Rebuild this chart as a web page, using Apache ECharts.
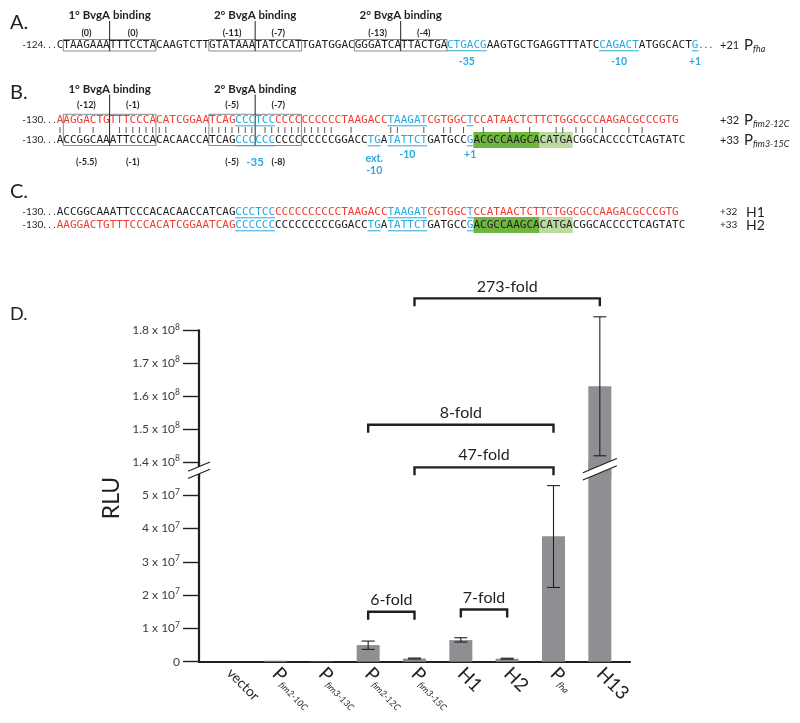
<!DOCTYPE html>
<html><head><meta charset="utf-8">
<script src="https://cdn.jsdelivr.net/npm/echarts@6/dist/echarts.min.js"></script>
<style>html,body{margin:0;padding:0;background:#fff}#c{width:800px;height:723px}</style>
</head><body><div id="c"></div>
<script>
// ---------------- Panel D data ----------------
const categories = ['vector','Pfim2-10C','Pfim3-13C','Pfim2-12C','Pfim3-15C','H1','H2','Pfha','H13'];
const rluMean = [0, 3e5, 1e5, 5.0e6, 9.5e5, 6.5e6, 9.0e5, 3.77e7, 1.63e8];
const errLow  = [null, null, null, 3.7e6, 8.0e5, 5.9e6, 7.5e5, 2.23e7, 1.419e8];
const errHigh = [null, null, null, 6.2e6, 1.1e6, 7.2e6, 1.05e6, 5.29e7, 1.841e8];
const lowerTicks = [0, 1e7, 2e7, 3e7, 4e7, 5e7];
const upperTicks = [1.4e8, 1.5e8, 1.6e8, 1.7e8, 1.8e8];
const foldLabels = ['273-fold','8-fold','47-fold','6-fold','7-fold'];
const foldFrom  = [4, 3, 4, 3, 5];
const foldTo    = [8, 7, 7, 4, 6];
const foldLevel = [1.897e8, 7.12e7, 5.84e7, 1.50e7, 1.57e7];
const foldPanel = [0, 1, 1, 1, 1]; // 0 = upper segment, 1 = lower segment

// ---------------- Panels A-C text ----------------
const seqA = [['C','k'],['TAAGAAATTTCCTACAAGTCTTGTATAAATATCCATTGATGGACGGGATCATTACTGA','k'],['CTGACG','b'],['AAGTGCTGAGGTTTATC','k'],['CAGACT','b'],['ATGGCACT','k'],['G','b']];
const seqBtop = [['AAGGACTGTTTCCCACATCGGAATCAG','r'],['CCCTCC','b'],['CCCCCCCCCCTAAGACC','r'],['TAAGAT','b'],['CGTGGC','r'],['T','b'],['CCATAACTCTTCTGGCGCCAAGACGCCCGTG','r']];
const seqBbot = [['ACCGGCAAATTCCCACACAACCATCAG','k'],['CCCCCC','b'],['CCCCCCCCCGGACC','k'],['TG','b'],['A','k'],['TATTCT','b'],['GATGCC','k'],['G','b'],['ACGCCAAGCA','kg'],['CATGA','kl'],['CGGCACCCCTCAGTATC','k']];
const seqH1 = [['ACCGGCAAATTCCCACACAACCATCAG','k'],['CCCTCC','b'],['CCCCCCCCCCTAAGACC','r'],['TAAGAT','b'],['CGTGGC','r'],['T','b'],['CCATAACTCTTCTGGCGCCAAGACGCCCGTG','r']];
const seqH2 = [['AAGGACTGTTTCCCACATCGGAATCAG','r'],['CCCCCC','b'],['CCCCCCCCCGGACC','k'],['TG','b'],['A','k'],['TATTCT','b'],['GATGCC','k'],['G','b'],['ACGCCAAGCA','kg'],['CATGA','kl'],['CGGCACCCCTCAGTATC','k']];
const boxesA = [[1,8,15],[23,30,37],[45,52,59]];
const headingsA = ['1° BvgA binding','2° BvgA binding','2° BvgA binding'];
const numbersA = ['(0)','(0)','(-11)','(-7)','(-13)','(-4)'];
const boxesB = [[1,8,15],[23,30,37]];
const headingsB = ['1° BvgA binding','2° BvgA binding'];
const numbersBtop = ['(-12)','(-1)','(-5)','(-7)'];
const numbersBbot = ['(-5.5)','(-1)','(-5)','(-8)'];

const F = 'Lato, "Open Sans", sans-serif';
const MONO = '"DejaVu Sans Mono", monospace';
const INK = '#231f20';
const COL = {k: INK, r: '#ee3e31', b: '#27aae1', kg: INK, kl: INK};
const BG = {kg: '#6fb640', kl: '#bbdba2'};
const X0 = 56.7, CW = 6.615;
const cx = i => X0 + i * CW;

// ---------------- chart layout ----------------
const GL = 206, GR = 177, YOFF = 7;
const UP_TOP = 330.3, UP_H = 148.2, LO_TOP = 462, LO_H = 199.7;
const UP_MIN = 1.35e8, UP_MAX = 1.8e8, LO_MIN = 0, LO_MAX = 6e7;

const chart = echarts.init(document.getElementById('c'), null, {renderer: 'canvas'});

function valueFmt(v) {
  if (v === 0) return '{n|0}';
  const e = Math.floor(Math.log10(v) + 1e-9);
  const m = Math.round(v / Math.pow(10, e) * 10) / 10;
  return '{n|' + m + ' x 10}{sup|' + e + '}';
}
const yRich = {
  n: {fontSize: 12, fontFamily: F, color: '#3c3c3e', lineHeight: 16},
  sup: {fontSize: 8.5, fontFamily: F, color: '#3c3c3e', lineHeight: 9, verticalAlign: 'top'}
};
function yAxisCfg(grid, min, max, ticks) {
  return {
    type: 'value', gridIndex: grid, min, max, offset: YOFF,
    axisLine: {show: true, lineStyle: {color: INK, width: 2.2}},
    axisTick: {show: true, length: 16, customValues: ticks, lineStyle: {color: INK, width: 1.4}},
    axisLabel: {show: true, margin: 19, customValues: ticks, formatter: valueFmt, rich: yRich},
    splitLine: {show: false}
  };
}
function errItem(params, api) {
  const x = api.value(0), lo = api.value(1), hi = api.value(2);
  const a = api.coord([x, lo]), b = api.coord([x, hi]);
  const w = 6.5;
  const st = {stroke: INK, lineWidth: 1.1};
  return {type: 'group', children: [
    {type: 'line', shape: {x1: a[0], y1: a[1], x2: b[0], y2: b[1]}, style: st},
    {type: 'line', shape: {x1: a[0] - w, y1: a[1], x2: a[0] + w, y2: a[1]}, style: st},
    {type: 'line', shape: {x1: b[0] - w, y1: b[1], x2: b[0] + w, y2: b[1]}, style: st}
  ]};
}
function foldItem(params, api) {
  const p1 = api.coord([api.value(0), api.value(2)]);
  const p2 = api.coord([api.value(1), api.value(2)]);
  const lab = foldLabels[api.value(3)];
  return {type: 'group', children: [
    {type: 'polyline', shape: {points: [[p1[0], p1[1] + 8], [p1[0], p1[1]], [p2[0], p2[1]], [p2[0], p2[1] + 8]]},
     style: {stroke: INK, lineWidth: 2.4, fill: null}},
    {type: 'text', x: (p1[0] + p2[0]) / 2, y: p1[1] - 4,
     style: {text: lab, fill: INK, font: '16px ' + F, align: 'center', verticalAlign: 'bottom', textAlign: 'center', textVerticalAlign: 'bottom'}}
  ]};
}
const errLowerData = [], errUpperData = [];
categories.forEach((c, i) => {
  if (errLow[i] == null) return;
  (errHigh[i] > LO_MAX ? errUpperData : errLowerData).push([i, errLow[i], errHigh[i]]);
});
const foldUpperData = [], foldLowerData = [];
foldLabels.forEach((l, i) => (foldPanel[i] === 0 ? foldUpperData : foldLowerData).push([foldFrom[i], foldTo[i], foldLevel[i], i]));

const barColor = '#8e8f92';
const option = {
  animation: false,
  backgroundColor: '#fff',
  grid: [
    {left: GL, right: GR, top: UP_TOP, height: UP_H},
    {left: GL, right: GR, top: LO_TOP, height: LO_H},
    {left: GL - YOFF, right: GR - YOFF, top: LO_TOP, height: LO_H}
  ],
  xAxis: [
    {type: 'category', gridIndex: 0, data: categories, show: false},
    {type: 'category', gridIndex: 1, data: categories,
     axisLine: {show: false}, axisTick: {show: false},
     axisLabel: {interval: 0, rotate: -45, margin: 9,
       formatter: v => v.charAt(0) === 'P' ? '{p|P}{s|' + v.slice(1) + '}' : (v === 'vector' ? '{v|vector}' : '{h|' + v + '}'),
       rich: {
         p: {fontSize: 19, fontFamily: F, color: INK, lineHeight: 20},
         s: {fontSize: 9, fontFamily: F, fontStyle: 'italic', color: INK, lineHeight: 11, verticalAlign: 'bottom', padding: [0, 0, 0, 1]},
         h: {fontSize: 19, fontFamily: F, color: INK, lineHeight: 20},
         v: {fontSize: 14, fontFamily: F, color: INK, lineHeight: 20}
       }}},
    {type: 'value', gridIndex: 2, min: 0, max: 1,
     axisLine: {show: true, onZero: false, lineStyle: {color: INK, width: 2.2}},
     axisTick: {show: false}, axisLabel: {show: false}, splitLine: {show: false}}
  ],
  yAxis: [
    yAxisCfg(0, UP_MIN, UP_MAX, upperTicks),
    yAxisCfg(1, LO_MIN, LO_MAX, lowerTicks),
    {type: 'value', gridIndex: 2, min: 0, max: 1, show: false}
  ],
  series: [
    {type: 'bar', xAxisIndex: 1, yAxisIndex: 1, data: rluMean, barWidth: 23, itemStyle: {color: barColor}},
    {type: 'bar', xAxisIndex: 0, yAxisIndex: 0, data: rluMean.map(v => v > UP_MIN ? v : '-'), barWidth: 23, itemStyle: {color: barColor}},
    {type: 'custom', xAxisIndex: 1, yAxisIndex: 1, data: errLowerData, encode: {x: 0, y: [1, 2]}, renderItem: errItem, z: 5},
    {type: 'custom', xAxisIndex: 0, yAxisIndex: 0, data: errUpperData, encode: {x: 0, y: [1, 2]}, renderItem: errItem, z: 5},
    {type: 'custom', xAxisIndex: 1, yAxisIndex: 1, data: foldLowerData, encode: {x: [0, 1], y: 2}, renderItem: foldItem, z: 6},
    {type: 'custom', xAxisIndex: 0, yAxisIndex: 0, data: foldUpperData, encode: {x: [0, 1], y: 2}, renderItem: foldItem, z: 6}
  ]
};
chart.setOption(option);

// ---------------- graphic (panels A-C, labels, axis breaks) ----------------
const els = [];
function T(x, y, text, st) {
  return {type: 'text', x, y, silent: true, z: 100,
    style: Object.assign({text, fill: INK, font: '11px ' + F, align: 'left', verticalAlign: 'middle', textAlign: 'left', textVerticalAlign: 'middle'}, st || {})};
}
function L(x1, y1, x2, y2, w, c) {
  return {type: 'line', silent: true, z: 100, shape: {x1, y1, x2, y2}, style: {stroke: c || INK, lineWidth: w || 1}};
}
function seqLine(segs, y) {
  let i = 0;
  segs.forEach(([txt, c]) => {
    const x = cx(i), w = txt.length * CW;
    if (BG[c]) els.push({type: 'rect', silent: true, z: 99, shape: {x, y: y - 8, width: w, height: 16}, style: {fill: BG[c]}});
    els.push(T(x, y, txt, {fill: COL[c], font: '11px ' + MONO}));
    if (c === 'b') els.push(L(x, y + 5.8, x + w, y + 5.8, 1, COL.b));
    i += txt.length;
  });
}
function sub(x, y, sub, big, small) {
  return {type: 'text', x, y, silent: true, z: 100, style: {
    text: '{p|P}{s|' + sub + '}', align: 'left', verticalAlign: 'middle', textAlign: 'left', textVerticalAlign: 'middle',
    rich: {p: {fontSize: big, fontFamily: F, fill: INK, color: INK, lineHeight: big + 3},
           s: {fontSize: small, fontFamily: F, fontStyle: 'italic', fill: INK, color: INK, lineHeight: small + 1, verticalAlign: 'bottom'}}}};
}
function prefix(y, t) { els.push(T(55.5, y, t, {font: '10px ' + F, align: 'right', textAlign: 'right'})); }
const boldNum = 'bold 9px ' + F;
const blueLab = 'bold 10.5px ' + F;

// Panel A
els.push(T(10, 23, 'A.', {font: '20px ' + F}));
prefix(45, '-124. . .');
boxesA.forEach(([s, d, e], k) => {
  els.push({type: 'rect', silent: true, z: 100, shape: {x: cx(s), y: 39.5, width: (e - s) * CW, height: 11.5}, style: {fill: null, stroke: '#6d6e71', lineWidth: 0.8}});
  els.push(L(cx(d), 21, cx(d), 51, 1));
  els.push(T(cx(d), 15, headingsA[k], {font: 'bold 11.5px ' + F, align: 'center', textAlign: 'center'}));
  els.push(T(cx((s + d) / 2), 33, numbersA[2 * k], {font: boldNum, align: 'center', textAlign: 'center'}));
  els.push(T(cx((d + e) / 2), 33, numbersA[2 * k + 1], {font: boldNum, align: 'center', textAlign: 'center'}));
});
seqLine(seqA, 45);
els.push(T(cx(97) + 1.5, 45, '. . .', {font: '10px ' + F}));
els.push(T(720, 45, '+21', {font: '11px ' + F}));
els.push(sub(744, 45, 'fha', 15, 9));
els.push(T(cx(62), 62, '-35', {font: blueLab, fill: COL.b, align: 'center', textAlign: 'center'}));
els.push(T(cx(85), 62, '-10', {font: blueLab, fill: COL.b, align: 'center', textAlign: 'center'}));
els.push(T(cx(96.5), 62, '+1', {font: blueLab, fill: COL.b, align: 'center', textAlign: 'center'}));

// Panel B
els.push(T(10, 93, 'B.', {font: '20px ' + F}));
prefix(120, '-130. . .');
prefix(140, '-130. . .');
boxesB.forEach(([s, d, e], k) => {
  els.push({type: 'rect', silent: true, z: 100, shape: {x: cx(s), y: 114.3, width: (e - s) * CW, height: 31.2}, style: {fill: null, stroke: '#6d6e71', lineWidth: 0.8}});
  els.push(L(cx(d), 94.5, cx(d), 145.5, 1));
  els.push(T(cx(d), 89.5, headingsB[k], {font: 'bold 11.5px ' + F, align: 'center', textAlign: 'center'}));
  els.push(T(cx((s + d) / 2), 105, numbersBtop[2 * k], {font: boldNum, align: 'center', textAlign: 'center'}));
  els.push(T(cx((d + e) / 2), 105, numbersBtop[2 * k + 1], {font: boldNum, align: 'center', textAlign: 'center'}));
  els.push(T(cx((s + d) / 2), 162, numbersBbot[2 * k], {font: boldNum, align: 'center', textAlign: 'center'}));
  els.push(T(cx((d + e) / 2), 162, numbersBbot[2 * k + 1], {font: boldNum, align: 'center', textAlign: 'center'}));
});
seqLine(seqBtop, 120);
seqLine(seqBbot, 140);
const topStr = seqBtop.map(s => s[0]).join(''), botStr = seqBbot.map(s => s[0]).join('');
for (let i = 0; i < Math.min(topStr.length, botStr.length); i++) {
  if (topStr[i] === botStr[i]) els.push(L(cx(i + 0.5), 127, cx(i + 0.5), 133, 0.9, '#444'));
}
els.push(T(720, 120, '+32', {font: '11px ' + F}));
els.push(sub(744, 120, 'fim2-12C', 15, 9));
els.push(T(720, 140, '+33', {font: '11px ' + F}));
els.push(sub(744, 140, 'fim3-15C', 15, 9));
els.push(T(cx(30), 162, '-35', {font: 'bold 11.5px ' + F, fill: COL.b, align: 'center', textAlign: 'center'}));
els.push(T(cx(48), 158.5, 'ext.', {font: blueLab, fill: COL.b, align: 'center', textAlign: 'center'}));
els.push(T(cx(48), 170.5, '-10', {font: blueLab, fill: COL.b, align: 'center', textAlign: 'center'}));
els.push(T(cx(53), 155, '-10', {font: blueLab, fill: COL.b, align: 'center', textAlign: 'center'}));
els.push(T(cx(62.5), 155, '+1', {font: blueLab, fill: COL.b, align: 'center', textAlign: 'center'}));

// Panel C
els.push(T(10, 192, 'C.', {font: '20px ' + F}));
prefix(212, '-130. . .');
prefix(225, '-130. . .');
seqLine(seqH1, 212);
seqLine(seqH2, 225);
els.push(T(720, 212, '+32', {font: '10px ' + F}));
els.push(T(746, 212, 'H1', {font: '14px ' + F}));
els.push(T(720, 225, '+33', {font: '10px ' + F}));
els.push(T(746, 225, 'H2', {font: '14px ' + F}));

// Panel D labels
els.push(T(10, 314, 'D.', {font: '18px ' + F}));
els.push({type: 'text', x: 112, y: 498, rotation: Math.PI / 2, silent: true, z: 100,
  style: {text: 'RLU', fill: INK, font: '23px ' + F, align: 'center', verticalAlign: 'middle', textAlign: 'center', textVerticalAlign: 'middle'}});

// axis break marks
function breakMark(x, y, h) {
  const s = 0.42, d = 3.6;
  els.push({type: 'polygon', silent: true, z: 100, shape: {points: [[x - h, y + s * h - d], [x + h, y - s * h - d], [x + h, y - s * h + d], [x - h, y + s * h + d]]}, style: {fill: '#fff'}});
  els.push(L(x - h, y + s * h - d, x + h, y - s * h - d, 1.2));
  els.push(L(x - h, y + s * h + d, x + h, y - s * h + d, 1.2));
}
const breakY = (LO_TOP + UP_TOP + UP_H) / 2;
breakMark(GL - YOFF, breakY, 11);
const xH13 = chart.convertToPixel({xAxisIndex: 1}, 'H13');
breakMark(xH13, breakY - 1, 17);

chart.setOption({graphic: {elements: els}});
</script>
</body></html>
